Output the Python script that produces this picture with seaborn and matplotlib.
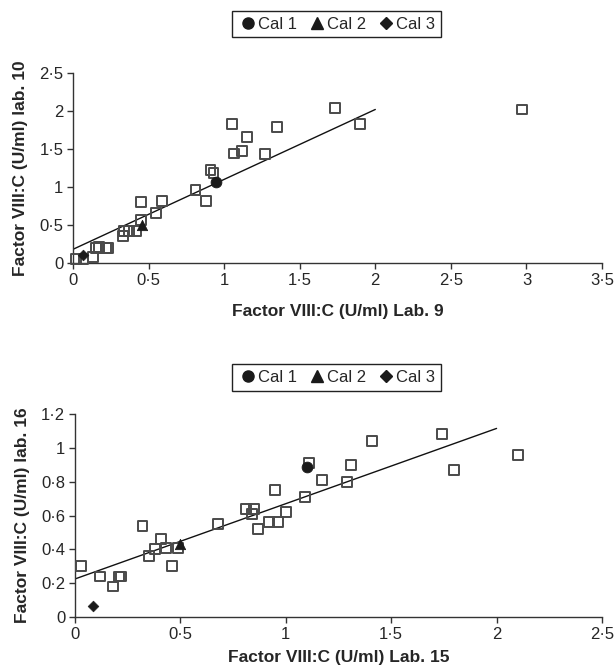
import matplotlib
matplotlib.use("Agg")
import matplotlib.pyplot as plt
import seaborn as sns
import pandas as pd
from matplotlib.ticker import FuncFormatter, MultipleLocator
from matplotlib.lines import Line2D

sns.set_style("white")
plt.rcParams['font.family'] = ['Liberation Sans', 'DejaVu Sans']

# Lab 9 vs Lab 10 (U/ml)
lab9 = [0.02, 0.07, 0.135, 0.15, 0.17, 0.22, 0.23, 0.33, 0.34, 0.37, 0.42, 0.45, 0.45,
        0.55, 0.59, 0.81, 0.88, 0.91, 0.93, 1.05, 1.065, 1.12, 1.15, 1.27, 1.35,
        1.735, 1.90, 2.97]
lab10 = [0.05, 0.05, 0.08, 0.2, 0.21, 0.2, 0.2, 0.35, 0.42, 0.42, 0.42, 0.57, 0.8,
         0.66, 0.82, 0.96, 0.82, 1.22, 1.18, 1.83, 1.44, 1.47, 1.66, 1.43, 1.79,
         2.04, 1.83, 2.02]
cal9 = [0.943, 0.457, 0.068]
cal10 = [1.06, 0.50, 0.10]
fit9_x = [0, 2.0]
fit9_y = [0.18, 2.02]

# Lab 15 vs Lab 16 (U/ml)
lab15 = [0.03, 0.12, 0.18, 0.21, 0.22, 0.32, 0.35, 0.38, 0.41, 0.43, 0.46, 0.49,
         0.68, 0.81, 0.85, 0.84, 0.87, 0.92, 0.95, 0.963, 1.0, 1.09, 1.11, 1.17,
         1.29, 1.31, 1.41, 1.74, 1.80, 2.10]
lab16 = [0.30, 0.24, 0.18, 0.24, 0.24, 0.54, 0.36, 0.40, 0.46, 0.41, 0.30, 0.41,
         0.55, 0.64, 0.64, 0.61, 0.52, 0.56, 0.75, 0.56, 0.62, 0.71, 0.91, 0.81,
         0.80, 0.90, 1.04, 1.08, 0.87, 0.96]
cal15 = [1.10, 0.50, 0.087]
cal16 = [0.885, 0.43, 0.063]
fit15_x = [0, 2.0]
fit15_y = [0.225, 1.115]

cal_names = ['Cal 1', 'Cal 2', 'Cal 3']
cal_markers = {'Cal 1': 'o', 'Cal 2': '^', 'Cal 3': 'D'}
cal_sizes = {'Cal 1': 60, 'Cal 2': 55, 'Cal 3': 30}

fig = plt.figure(figsize=(6.14, 6.69), dpi=100)
ax1 = fig.add_axes([0.1189, 0.6069, 0.8616, 0.2840])
ax2 = fig.add_axes([0.1221, 0.0777, 0.8583, 0.3034])

dot_fmt = FuncFormatter(lambda v, p: ('%g' % round(v, 2)).replace('.', '\u00b7'))


def draw(ax, x, y, cx, cy, fx, fy, xlim, ylim, ystep, xlabel, ylabel, legend_top, xpad):
    ax.plot(fx, fy, color='#111111', lw=1.0, zorder=2)
    sns.scatterplot(x=x, y=y, ax=ax, marker='s', s=50, facecolor='none',
                    edgecolor='#4a4a4a', linewidth=1.4, zorder=3, clip_on=False)
    for name, xx, yy in zip(cal_names, cx, cy):
        sns.scatterplot(x=[xx], y=[yy], ax=ax, marker=cal_markers[name],
                        s=cal_sizes[name], color='#1a1a1a', edgecolor='#1a1a1a',
                        zorder=4, clip_on=False)
    ax.set_xlim(*xlim)
    ax.set_ylim(*ylim)
    ax.xaxis.set_major_locator(MultipleLocator(0.5))
    ax.yaxis.set_major_locator(MultipleLocator(ystep))
    ax.xaxis.set_major_formatter(dot_fmt)
    ax.yaxis.set_major_formatter(dot_fmt)
    for s in ['top', 'right']:
        ax.spines[s].set_visible(False)
    for s in ['left', 'bottom']:
        ax.spines[s].set_color('#333333')
        ax.spines[s].set_linewidth(1.0)
    ax.tick_params(direction='out', length=4, width=1, color='#333333',
                   labelsize=12, pad=3, left=True, bottom=True)
    ax.set_xlabel(xlabel, fontsize=12.5, fontweight='bold', labelpad=xpad)
    ax.set_ylabel(ylabel, fontsize=12.5, fontweight='bold', labelpad=8)
    handles = [Line2D([], [], ls='none', marker=cal_markers[n], color='#1a1a1a',
                      markersize=8 if n != 'Cal 3' else 6) for n in cal_names]
    ax.legend(handles, cal_names, loc='upper center', ncol=3,
              bbox_to_anchor=(0.548, legend_top), bbox_transform=fig.transFigure,
              frameon=True, fancybox=False, edgecolor='#222222', fontsize=12,
              handletextpad=0.0, columnspacing=0.6, borderpad=0.35, handlelength=1.2,
              framealpha=1, borderaxespad=0)
    ax.get_legend().get_frame().set_linewidth(1.0)


draw(ax1, lab9, lab10, cal9, cal10, fit9_x, fit9_y, (0, 3.5), (0, 2.5), 0.5,
     'Factor VIII:C (U/ml) Lab. 9', 'Factor VIII:C (U/ml) lab. 10', 0.984, 12)
draw(ax2, lab15, lab16, cal15, cal16, fit15_x, fit15_y, (0, 2.5), (0, 1.2), 0.2,
     'Factor VIII:C (U/ml) Lab. 15', 'Factor VIII:C (U/ml) lab. 16', 0.456, 6)

fig.savefig('out.png', dpi=100)
